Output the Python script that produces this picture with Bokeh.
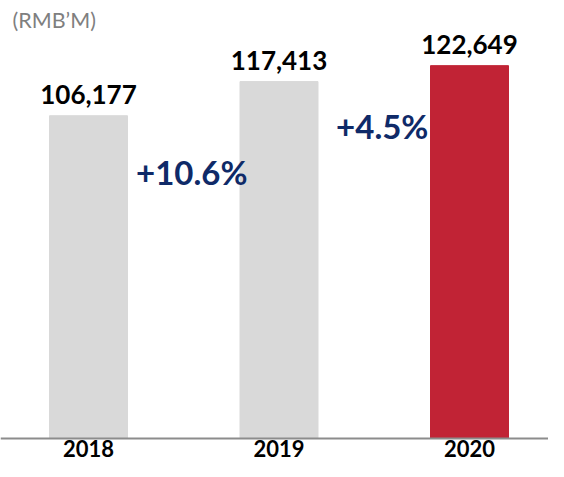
from bokeh.plotting import figure
from bokeh.models import Range1d, ColumnDataSource, Label, Span
from bokeh.core.properties import value
from bokeh.embed import file_html
from bokeh.resources import INLINE

# ---- data ----
years = ["2018", "2019", "2020"]
revenue = [106177, 117413, 122649]
bar_colors = ["#D9D9D9", "#D9D9D9", "#C12335"]
unit_label = "(RMB\u2019M)"
growth_label_y = [82570, 97700]   # vertical placement of growth annotations (data units)

# ---- layout ----
W, H = 548, 461
BASE_PX = 438            # pixel row of the zero line
px_per_unit = 0.00304
y_start = -(H - BASE_PX) / px_per_unit
y_end = BASE_PX / px_per_unit
x0_px, step_px = 88.0, 190.5
x_start = -x0_px / step_px
x_end = (W - x0_px) / step_px
FONT = "Lato"
BL = 0.48                # rendered baseline sits ~0.48em below the anchor

xs = list(range(len(years)))
value_text = [f"{v:,}" for v in revenue]
growth_text = [f"+{(b / a - 1) * 100:.1f}%" for a, b in zip(revenue[:-1], revenue[1:])]
growth_x = [i + 0.5 for i in range(len(growth_text))]
zeros = [0] * len(years)

src = ColumnDataSource(dict(x=xs, top=revenue, zero=zeros, color=bar_colors,
                            label=value_text, year=years))
gsrc = ColumnDataSource(dict(x=growth_x, y=growth_label_y, label=growth_text))

p = figure(width=W, height=H, output_backend="svg", toolbar_location=None,
           x_range=Range1d(x_start, x_end), y_range=Range1d(y_start, y_end),
           x_axis_location=None, y_axis_location=None,
           min_border=0, min_border_left=0, min_border_right=0,
           min_border_top=0, min_border_bottom=0)
p.outline_line_color = None
p.grid.visible = False
p.background_fill_color = "white"
p.border_fill_color = "white"

p.vbar(x="x", top="top", bottom=0, width=78 / step_px, color="color", source=src)

# category axis line
p.add_layout(Span(location=0, dimension="width", line_color="#8C8C8C", line_width=2))

# value labels
vs = 26
p.text(x="x", y="top", text="label", source=src, text_align="center",
       text_baseline="alphabetic", y_offset=-(9 + BL * vs), text_font=value(FONT),
       text_font_style="bold", text_font_size=f"{vs}px", text_color="#000000")

# growth labels
gs = 33
p.text(x="x", y="y", text="label", source=gsrc, text_align="center",
       text_baseline="alphabetic", x_offset=8, y_offset=-BL * gs, text_font=value(FONT),
       text_font_style="bold", text_font_size=f"{gs}px", text_color="#0F2A68")

# category (year) labels under the axis line
ys = 22
p.text(x="x", y="zero", text="year", source=src, text_align="center",
       text_baseline="alphabetic", y_offset=21 - BL * ys, text_font=value(FONT),
       text_font_style="bold", text_font_size=f"{ys}px", text_color="#000000")

# unit note in the top-left corner
us = 21.5
ux = (12 - x0_px) / step_px
uy = (BASE_PX - (29.3 - 0.45 * us)) / px_per_unit
p.add_layout(Label(x=ux, y=uy, text=unit_label, text_font=FONT,
                   text_font_size=f"{us}px", text_color="#7F7F7F",
                   text_baseline="alphabetic", text_align="left"))

open("out.html", "w").write(file_html(p, INLINE))
